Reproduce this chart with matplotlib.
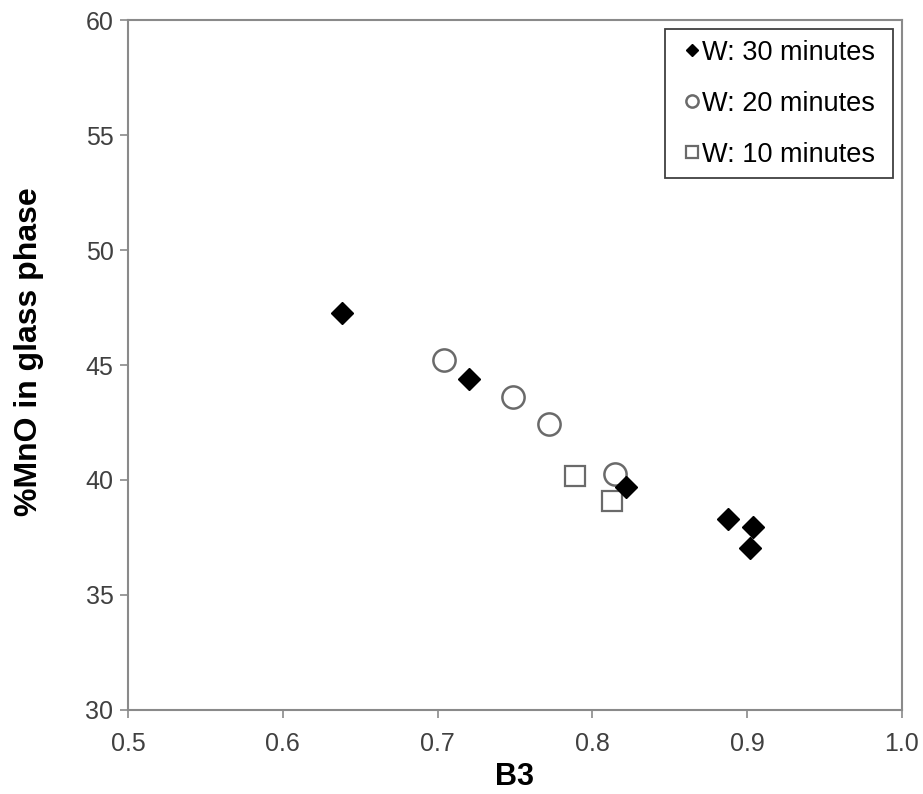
import matplotlib
matplotlib.use("Agg")
from matplotlib import pyplot as plt

plt.rcParams['font.family'] = ['Liberation Sans', 'DejaVu Sans']

# W: 30 minutes (filled diamonds)
b3_30 = [0.638, 0.7205, 0.822, 0.888, 0.904, 0.902]
mno_30 = [47.26, 44.38, 39.68, 38.29, 37.97, 37.03]
# W: 20 minutes (open circles)
b3_20 = [0.704, 0.749, 0.772, 0.815]
mno_20 = [45.2, 43.62, 42.43, 40.26]
# W: 10 minutes (open squares)
b3_10 = [0.789, 0.8125]
mno_10 = [40.17, 39.1]

xticks = [0.5, 0.6, 0.7, 0.8, 0.9, 1.0]
yticks = [30, 35, 40, 45, 50, 55, 60]

fig = plt.figure(figsize=(9.23, 7.94), dpi=100)
ax = fig.add_axes([0.1387, 0.1058, 0.977 - 0.1387, 0.9748 - 0.1058])

ax.plot(b3_10, mno_10, ls='none', marker='s', ms=15, mfc='white', mec='#6a6a6a',
        mew=1.6, label='W: 10 minutes')
ax.plot(b3_20, mno_20, ls='none', marker='o', ms=16, mfc='white', mec='#6a6a6a',
        mew=1.8, label='W: 20 minutes')
ax.plot(b3_30, mno_30, ls='none', marker='D', ms=11.5, mfc='black', mec='black',
        label='W: 30 minutes')

ax.set_xlim(0.5, 1.0)
ax.set_ylim(30, 60)
ax.set_xticks(xticks)
ax.set_xticklabels(['%.1f' % v for v in xticks])
ax.set_yticks(yticks)

for s in ax.spines.values():
  s.set_color('#8a8a8a')
  s.set_linewidth(1.5)

ax.tick_params(axis='both', direction='out', length=5.5, width=1.2, color='#8a8a8a',
               labelsize=18, labelcolor='#404040', pad=5)
ax.tick_params(axis='x', pad=10)

ax.set_xlabel('B3', fontsize=22, fontweight='bold', labelpad=5)
ax.set_ylabel('%MnO in glass phase', fontsize=23, fontweight='bold', labelpad=30)
ax.yaxis.label.set_y(0.519)

h, l = ax.get_legend_handles_labels()
# trailing space widens the right margin of the box like the original
leg = ax.legend(h[::-1], [s + ' ' for s in l[::-1]], loc='upper right', fontsize=19.5,
                markerscale=0.55, handlelength=1.2, handletextpad=-0.25,
                labelspacing=0.92, borderaxespad=0.33, fancybox=False,
                framealpha=1, borderpad=0.4)
leg.get_frame().set_edgecolor('#404040')
leg.get_frame().set_linewidth(1.3)

fig.savefig('out.png', dpi=100)
